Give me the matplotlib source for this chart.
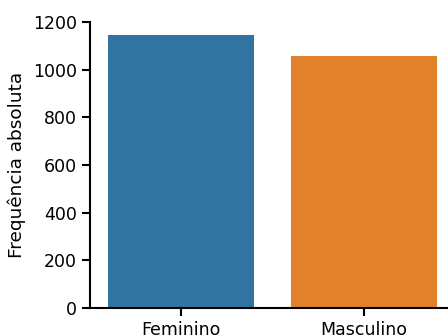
import matplotlib
matplotlib.use("Agg")
import matplotlib.pyplot as plt

# Dados (contagem por sexo)
categorias = ["Feminino", "Masculino"]
frequencias = [1145, 1057]
cores = ["#3274a1", "#e1812c"]

fig = plt.figure(figsize=(4.48, 3.36), dpi=100)
# eixo ultrapassa a borda direita (imagem original recortada)
ax = fig.add_axes([0.201, 0.083, 0.815, 0.852])

ax.bar(categorias, frequencias, width=0.8, color=cores)
ax.set_xlim(-0.5, 1.5)
ax.set_ylim(0, 1200)
ax.set_yticks([0, 200, 400, 600, 800, 1000, 1200])
ax.set_ylabel("Frequência absoluta", fontsize=13.3, labelpad=5)
ax.tick_params(labelsize=12.5, width=1.5, length=6)
for s in ["top", "right"]:
    ax.spines[s].set_visible(False)
for s in ["left", "bottom"]:
    ax.spines[s].set_linewidth(1.5)

fig.savefig("out.png", dpi=100)
